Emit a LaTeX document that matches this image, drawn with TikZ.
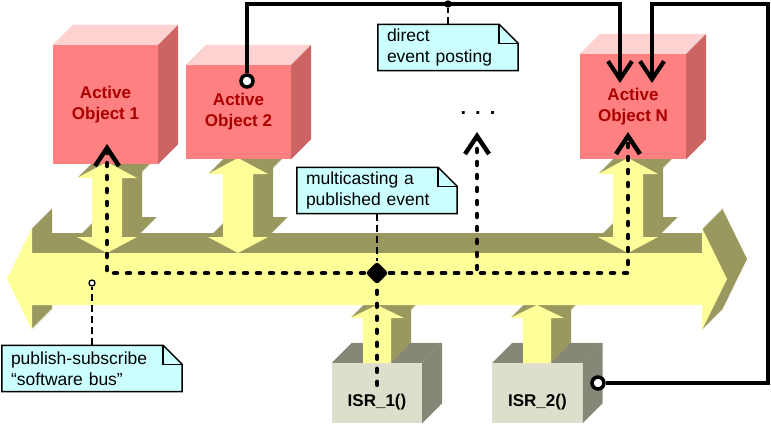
\documentclass[tikz,border=0pt]{standalone}
\usepackage{fontspec}
\setmainfont{Liberation Sans}
\usetikzlibrary{arrows.meta,shapes.geometric,backgrounds,positioning}

\definecolor{busyellow}{HTML}{FFFF99}
\definecolor{busolive}{HTML}{99995F}
\definecolor{aofront}{HTML}{FF8080}
\definecolor{aotop}{HTML}{FFD2D2}
\definecolor{aoside}{HTML}{CC6464}
\definecolor{aotext}{HTML}{AA0000}
\definecolor{isrfront}{HTML}{DEDECC}
\definecolor{isrdark}{HTML}{878778}
\definecolor{notecyan}{HTML}{CCFFFF}

% olive depth (shifted copies) under a yellow face
\newcommand{\extruded}[1]{%
  \foreach \s in {1,...,20} \fill[busolive,shift={(\s,\s)}] #1;
  \fill[busyellow] #1;}
% double arrow between bus and active object: centre x, top y
\newcommand{\ioarrow}[2]{\extruded{(#1,171) -- ++(30,16) -- ++(-15,0) -- ({#1+15},{#2-16})
  -- ++(15,0) -- (#1,#2) -- ++(-30,-16) -- ++(15,0) -- ({#1-15},187) -- ++(-15,0) -- cycle}}
% single arrow from ISR up to the bus: centre x
\newcommand{\israrrow}[1]{\extruded{(#1,119) -- ++(27,-13) -- ++(-13,0) -- ({#1+14},61)
  -- ({#1-14},61) -- ({#1-14},106) -- ++(-13,0) -- cycle}}
% top and side face of a box node
\newcommand{\cubefaces}[3]{%
  \fill[#2] (#1.north west) -- ++(20,20) -- ([shift={(20pt,20pt)}]#1.north east) -- (#1.north east) -- cycle;
  \fill[#3] (#1.north east) -- ++(20,20) -- ([shift={(20pt,20pt)}]#1.south east) -- (#1.south east) -- cycle;}
% note outline with folded corner
\newcommand{\notefold}[1]{%
  \begin{scope}[on background layer]
    \filldraw[fill=notecyan, line width=1.5pt] (#1.south west) -- (#1.north west)
      -- ([xshift=-19pt]#1.north east) -- ([yshift=-19pt]#1.north east) -- (#1.south east) -- cycle;
    \draw[line width=1.5pt] ([xshift=-19pt]#1.north east) |- ([yshift=-19pt]#1.north east);
  \end{scope}}

\begin{document}
\begin{tikzpicture}[x=1pt,y=1pt,
  aobox/.style={fill=aofront, minimum width=105pt, inner sep=0pt, align=center,
    text=aotext, font=\fontsize{17}{21}\selectfont\bfseries},
  isrbox/.style={fill=isrfront, minimum width=90pt, minimum height=60pt, inner sep=0pt},
  isrlabel/.style={font=\fontsize{17}{21}\selectfont\bfseries, yshift=-9pt},
  note/.style={inner xsep=9pt, inner ysep=0pt, minimum height=46pt, align=left,
    font=\fontsize{17.5}{21}\selectfont},
  pointer/.style={line width=1.3pt, dash pattern=on 7pt off 4pt},
  pincirc/.style={circle, draw, fill=white, line width=1.3pt, minimum size=6pt, inner sep=0pt},
  postcirc/.style={circle, draw, fill=white, line width=3.5pt, minimum size=12pt, inner sep=0pt},
  multicast/.style={line width=4.5pt, line cap=round, dash pattern=on 3pt off 10pt},
  post/.style={line width=4.2pt},
  evarrow/.style={-{Straight Barb[length=18pt,width=24pt]}}]
  \useasboundingbox (0,0) rectangle (771,424);

  % interrupt service routines
  \node[isrbox, label={[isrlabel]center:ISR\_1()}] (isr1) at (377,31) {};
  \node[isrbox, label={[isrlabel]center:ISR\_2()}, right=70pt of isr1] (isr2) {};
  \cubefaces{isr1}{isrdark}{isrdark}
  \cubefaces{isr2}{isrdark}{isrdark}
  \israrrow{377}
  \israrrow{537}

  % software bus
  \extruded{(7,145) -- (32,196) -- (32,171) -- (702,171) -- (702,196) -- (727,145)
    -- (702,94) -- (702,119) -- (32,119) -- (32,94) -- cycle}

  % active objects
  \ioarrow{107}{262}
  \ioarrow{238}{266}
  \ioarrow{628}{266}
  \node[aobox, minimum height=119pt] (ao1) at (105.5,319.5) {Active\\Object 1};
  \node[aobox, minimum height=94pt] (ao2) at (238.5,312) {Active\\Object 2};
  \node[aobox, minimum height=105pt, minimum width=106pt] (aoN) at (633,317.5) {Active\\Object N};
  \cubefaces{ao1}{aotop}{aoside}
  \cubefaces{ao2}{aotop}{aoside}
  \cubefaces{aoN}{aotop}{aoside}
  \node[font=\fontsize{20}{24}\selectfont\bfseries] (dots) at (478,311) {.\hspace{9pt}.\hspace{9pt}.};

  % notes
  \node[note, text width=122pt] (n1) at (448,376.5) {direct\\event posting};
  \node[note, text width=142pt] (n2) at (377,233.5) {multicasting a\\published event};
  \node[note, text width=162pt] (n3) at (92,55.5) {publish-subscribe\\“software bus”};
  \notefold{n1}
  \notefold{n2}
  \notefold{n3}
  \node[pincirc] (p1) at (448,420) {};
  \node[pincirc] (p3) at (92,141) {};
  \node[diamond, fill, minimum size=23pt, inner sep=0pt, rounded corners=3pt] (j) at (377,151) {};
  \draw[pointer] (n1) -- (p1);
  \draw[pointer] (n2) -- (j);
  \draw[pointer] (n3) -- (p3);

  % multicasting a published event
  \coordinate (t1) at (107,280);
  \coordinate (tD) at (477,292);
  \coordinate (tN) at (628,292);
  \draw[multicast] ([yshift=-22pt]isr1.north) -- (j.center);
  \draw[multicast,evarrow] (j.center) -| (t1);
  \draw[multicast,evarrow] (j.center) -| (tD);
  \draw[multicast,evarrow] (j.center) -| (tN);

  % direct event posting
  \node[postcirc] (o2) at (247,343) {};
  \node[postcirc] (o4) at (598,41) {};
  \coordinate (tP1) at (620,341);
  \coordinate (tP2) at (652,341);
  \coordinate (c4) at (768,420);
  \draw[post,evarrow] (o2) |- (p1.center) -| (tP1);
  \draw[post,evarrow] (o4) -| (c4) -| (tP2);
\end{tikzpicture}
\end{document}
